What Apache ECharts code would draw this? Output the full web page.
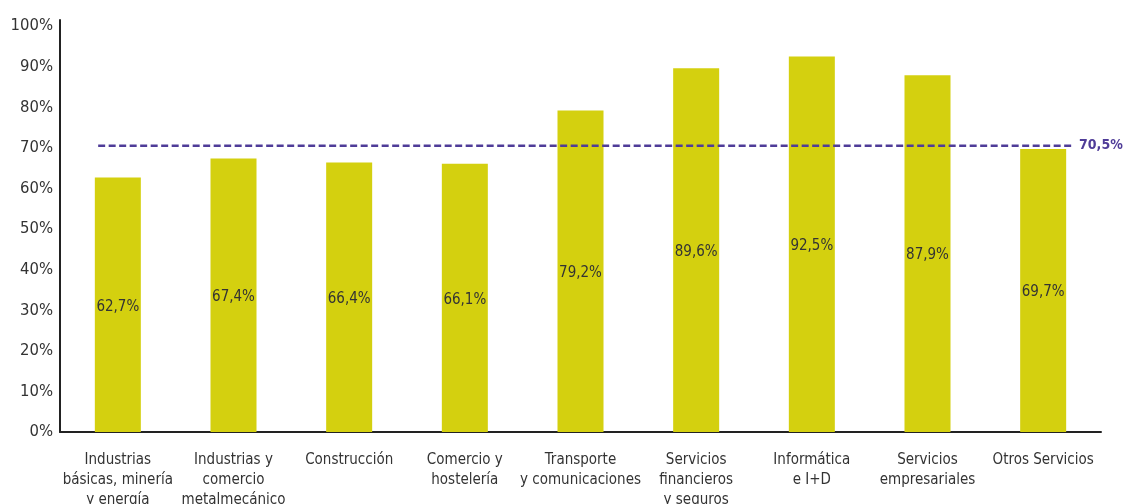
<!DOCTYPE html>
<html><head><meta charset="utf-8">
<script src="https://cdn.jsdelivr.net/npm/echarts@6/dist/echarts.min.js"></script>
<style>html,body{margin:0;padding:0;background:#fff}#c{width:1125px;height:504px}</style>
</head><body><div id="c"></div>
<script>
const categories = ['Industrias\nbásicas, minería\ny energía','Industrias y\ncomercio\nmetalmecánico','Construcción','Comercio y\nhostelería','Transporte\ny comunicaciones','Servicios\nfinancieros\ny seguros','Informática\ne I+D','Servicios\nempresariales','Otros Servicios'];
const values = [62.7, 67.4, 66.4, 66.1, 79.2, 89.6, 92.5, 87.9, 69.7];
const average = 70.5;
const averageSpan = [-0.17, 8.25];
const yTicks = [0,10,20,30,40,50,60,70,80,90,100];

const FONT = '"Liberation Sans Narrow","DejaVu Sans Condensed",sans-serif';
const fmt = v => v.toFixed(1).replace('.', ',') + '%';
const chart = echarts.init(document.getElementById('c'));
chart.setOption({
  animation: false,
  grid: {left: 60, right: 24, top: 20, bottom: 72, containLabel: false, outerBoundsMode: 'none'},
  xAxis: [{
    type: 'category', data: categories,
    axisLine: {lineStyle: {color: '#222', width: 2}},
    axisTick: {show: false},
    axisLabel: {color: '#333', fontFamily: FONT, fontSize: 15, lineHeight: 20, margin: 18, interval: 0}
  }, {
    type: 'value', min: -0.5, max: 8.5, show: false
  }],
  yAxis: {
    type: 'value', min: 0, max: 101.5, interval: 10,
    axisLine: {show: true, onZero: false, lineStyle: {color: '#222', width: 2}},
    axisTick: {show: false},
    splitLine: {show: false},
    axisLabel: {color: '#333', fontFamily: FONT, fontSize: 16.5, margin: 7,
      formatter: v => yTicks.includes(v) ? v + '%' : ''}
  },
  series: [{
    type: 'bar', data: values, barWidth: 46,
    itemStyle: {color: '#d4d00f'},
    label: {show: true, position: 'inside', offset: [0, 2], color: '#333', fontFamily: FONT, fontSize: 15,
      formatter: p => fmt(p.value)}
  }, {
    type: 'line', xAxisIndex: 1, symbol: 'none',
    data: averageSpan.map(x => [x, average]),
    lineStyle: {color: '#4f3c98', width: 2.5, type: [7, 3.5]},
    endLabel: {show: true, formatter: () => fmt(average), color: '#4f3c98', fontFamily: FONT,
      fontSize: 14, fontWeight: 'bold', distance: 7}
  }]
});
</script></body></html>
